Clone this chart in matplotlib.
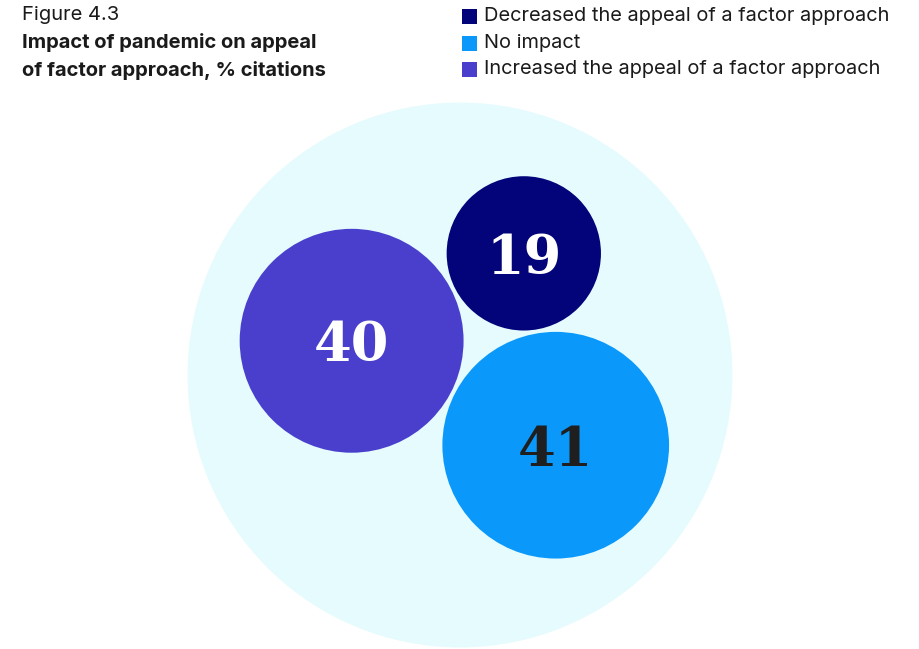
import numpy as np
import matplotlib.pyplot as plt
from matplotlib.patches import Circle, Rectangle

# data
categories = ["Decreased the appeal of a factor approach", "No impact",
              "Increased the appeal of a factor approach"]
values = [19, 41, 40]
colors = ["#03037a", "#0a98fa", "#4a3fcc"]
text_colors = ["white", "#1f1f1f", "white"]

# --- simple circle packing (area proportional to value) ---
scale = 17.7          # px per sqrt(unit)
gap = 4.0
pad = 45.0
r = {v: scale * np.sqrt(v) for v in values}
r19, r41, r40 = r[19], r[41], r[40]

# 40 at origin, 41 tangent along a chosen angle, 19 tangent to both
ang = np.deg2rad(-27.1)
c40 = np.array([0.0, 0.0])
d = r40 + r41 + gap
c41 = c40 + d * np.array([np.cos(ang), np.sin(ang)])
a = r40 + r19 + gap
b = r41 + r19 + gap
cosA = (a**2 + d**2 - b**2) / (2 * a * d)
A = np.arccos(cosA)
c19 = c40 + a * np.array([np.cos(ang + A), np.sin(ang + A)])
centers = {40: c40, 41: c41, 19: c19}

# enclosing circle via grid search
pts = np.array(list(centers.values()))
rads = np.array([r[k] for k in centers])
xs = np.linspace(pts[:, 0].min(), pts[:, 0].max(), 400)
ys = np.linspace(pts[:, 1].min(), pts[:, 1].max(), 400)
gx, gy = np.meshgrid(xs, ys)
far = np.max([np.hypot(gx - p[0], gy - p[1]) + rr for p, rr in zip(pts, rads)], axis=0)
i = np.unravel_index(np.argmin(far), far.shape)
outer_c = np.array([gx[i], gy[i]]) + np.array([3.0, 13.0])  # inner group sits a bit low
outer_r = far[i] + pad

W, H = 919, 649
fig = plt.figure(figsize=(W / 100, H / 100), dpi=100)
ax = fig.add_axes([0, 0, 1, 1])
ax.set_aspect("equal")
# place outer circle centre at pixel (460, 375)
ax.set_xlim(outer_c[0] - 460, outer_c[0] - 460 + W)
ax.set_ylim(outer_c[1] - (H - 375), outer_c[1] + 375)
ax.axis("off")

ax.add_patch(Circle(outer_c, outer_r, color="#e5fbfd", lw=0))
for v, col, tc in zip(values, colors, text_colors):
    c = centers[v]
    ax.add_patch(Circle(c, r[v], color=col, lw=0))
    ax.text(c[0], c[1], str(v), ha="center", va="center_baseline",
            fontsize=39, fontweight="bold", color=tc, family="DejaVu Serif")

# title
fig.text(22 / W, 1 - 15 / H, "Figure 4.3", fontsize=14.5, family="Inter",
         color="#1a1a1a", va="center")
fig.text(22 / W, 1 - 43 / H, "Impact of pandemic on appeal", fontsize=14.5,
         family="Inter", fontweight="bold", color="#1a1a1a", va="center")
fig.text(22 / W, 1 - 70 / H, "of factor approach, % citations", fontsize=14.5,
         family="Inter", fontweight="bold", color="#1a1a1a", va="center")

# legend
for k, (lab, col) in enumerate(zip(categories, colors)):
    y = 16 + 26.5 * k
    fig.patches.append(Rectangle((462 / W, 1 - (y + 8) / H), 15 / W, 15 / H,
                                 transform=fig.transFigure, color=col, lw=0))
    fig.text(484 / W, 1 - y / H, lab, fontsize=14.4, family="Inter",
             color="#1a1a1a", va="center")

fig.savefig("out.png", dpi=100)
